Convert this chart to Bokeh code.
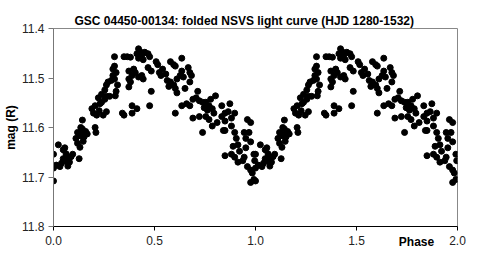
from bokeh.plotting import figure
from bokeh.models import Range1d, FixedTicker, NumeralTickFormatter, ColumnDataSource, Label
from bokeh.embed import file_html
from bokeh.resources import INLINE

# Folded light curve, one cycle (phase 0-1); the chart shows it twice (0-2)
phase = [
    0.000, 0.000, 0.000, 0.014, 0.024, 0.032, 0.040, 0.048, 0.048, 0.056, 0.062, 0.066, 0.071, 0.075, 0.079, 0.087, 0.095,
    0.111, 0.119, 0.119, 0.127, 0.127, 0.131, 0.135, 0.135, 0.143, 0.143, 0.147, 0.151, 0.155, 0.159, 0.167, 0.206, 0.210,
    0.190, 0.198, 0.206, 0.214, 0.222, 0.226, 0.230, 0.238, 0.238, 0.246, 0.254, 0.254, 0.262, 0.262, 0.270, 0.278, 0.262, 0.286, 0.294, 0.294,
    0.302, 0.302, 0.302, 0.306, 0.310, 0.310, 0.317, 0.341, 0.349, 0.349, 0.365, 0.373, 0.373, 0.373, 0.381, 0.381, 0.389, 0.389, 0.389, 0.397, 0.405, 0.413, 0.413, 0.421, 0.421, 0.421, 0.429, 0.437, 0.437, 0.444, 0.444, 0.452,
    0.468, 0.468, 0.476, 0.476, 0.484, 0.484, 0.508, 0.516, 0.524, 0.532, 0.540, 0.556, 0.563, 0.571, 0.579, 0.579, 0.595, 0.595, 0.603, 0.603, 0.603, 0.611, 0.611, 0.627, 0.635, 0.635, 0.635, 0.643, 0.651,
    0.659, 0.667, 0.675, 0.675, 0.675, 0.683, 0.690, 0.690, 0.706, 0.714, 0.722, 0.722, 0.738, 0.738, 0.746, 0.754, 0.754, 0.762, 0.770, 0.770, 0.778, 0.786, 0.786, 0.794, 0.802, 0.810, 0.833, 0.833, 0.841,
    0.849, 0.849, 0.849, 0.849, 0.865, 0.873, 0.881, 0.881, 0.881, 0.889, 0.897, 0.897, 0.897, 0.905, 0.913, 0.913, 0.921, 0.937, 0.944, 0.944, 0.952, 0.952, 0.960, 0.960, 0.968, 0.976, 0.976, 0.976, 0.976, 0.984, 0.992, 0.992, 0.996,
]
mag = [
    11.654, 11.682, 11.708, 11.676, 11.635, 11.679, 11.672, 11.663, 11.645, 11.641, 11.653, 11.668, 11.678, 11.661, 11.670, 11.659, 11.654,
    11.622, 11.632, 11.610, 11.663, 11.613, 11.640, 11.600, 11.617, 11.585, 11.603, 11.628, 11.619, 11.610, 11.608, 11.613, 11.600, 11.610,
    11.562, 11.571, 11.556, 11.575, 11.540, 11.566, 11.552, 11.533, 11.549, 11.575, 11.543, 11.524, 11.568, 11.537, 11.508, 11.537, 11.514, 11.505, 11.495, 11.482,
    11.502, 11.476, 11.457, 11.536, 11.489, 11.527, 11.514, 11.571, 11.575, 11.457, 11.457, 11.518, 11.502, 11.486, 11.508, 11.458, 11.571, 11.556, 11.495, 11.482, 11.489, 11.562, 11.451, 11.441, 11.460, 11.498, 11.447, 11.454, 11.495, 11.502, 11.463, 11.448,
    11.451, 11.479, 11.457, 11.556, 11.486, 11.527, 11.467, 11.473, 11.489, 11.495, 11.482, 11.492, 11.505, 11.517, 11.508, 11.467, 11.514, 11.473, 11.521, 11.476, 11.571, 11.530, 11.502, 11.495, 11.486, 11.460, 11.556, 11.498, 11.521,
    11.552, 11.479, 11.489, 11.508, 11.556, 11.495, 11.543, 11.581, 11.540, 11.527, 11.546, 11.578, 11.549, 11.610, 11.560, 11.549, 11.578, 11.565, 11.556, 11.584, 11.543, 11.562, 11.597, 11.571, 11.536, 11.590, 11.578, 11.556, 11.606,
    11.587, 11.571, 11.606, 11.657, 11.568, 11.552, 11.581, 11.597, 11.654, 11.638, 11.610, 11.571, 11.660, 11.622, 11.635, 11.670, 11.648, 11.667, 11.610, 11.660, 11.622, 11.641, 11.584, 11.679, 11.610, 11.590, 11.629, 11.686, 11.711, 11.692, 11.654, 11.705, 11.667,
]

x_ticks = [0.0, 0.5, 1.0, 1.5, 2.0]
y_ticks = [11.4, 11.5, 11.6, 11.7, 11.8]
title_text = "GSC 04450-00134: folded NSVS light curve (HJD 1280-1532)"
y_label = "mag (R)"
x_label = "Phase"

xs = phase + [p + 1.0 for p in phase]
ys = mag + mag
src = ColumnDataSource(data=dict(x=xs, y=ys))

font = "Liberation Sans"

p = figure(width=469, height=251, output_backend="svg", toolbar_location=None,
           x_range=Range1d(0, 2), y_range=Range1d(11.8, 11.4),
           min_border_left=53, min_border_right=12, min_border_top=28, min_border_bottom=25)

p.scatter("x", "y", source=src, marker="circle", size=6, color="black")

p.xgrid.visible = False
p.ygrid.visible = False
p.background_fill_color = "white"
p.border_fill_color = "white"
p.outline_line_color = "#888888"
p.outline_line_width = 1

for ax in (p.xaxis[0], p.yaxis[0]):
    ax.major_label_text_font = font
    ax.major_label_text_font_size = "12px"
    ax.major_label_text_color = "#222222"
    ax.minor_tick_line_color = None
    ax.major_tick_in = 0

p.xaxis.ticker = FixedTicker(ticks=x_ticks)
p.xaxis.formatter = NumeralTickFormatter(format="0.0")
p.xaxis.major_tick_out = 4
p.xaxis.axis_line_color = "black"
p.xaxis.major_tick_line_color = "black"
p.xaxis.major_label_standoff = 5

p.yaxis.ticker = FixedTicker(ticks=y_ticks)
p.yaxis.formatter = NumeralTickFormatter(format="0.0")
p.yaxis.major_tick_out = 5
p.yaxis.axis_line_color = "#777777"
p.yaxis.major_tick_line_color = "#777777"
p.yaxis.major_label_standoff = 4
p.yaxis.axis_label = y_label
p.yaxis.axis_label_standoff = 1
p.yaxis.axis_label_text_font = font
p.yaxis.axis_label_text_font_size = "12px"
p.yaxis.axis_label_text_font_style = "bold"
p.yaxis.axis_label_text_color = "black"

# chart title (placed in the top panel, positioned on the chart's scales)
p.add_layout(Label(x=0.104, y=11.3853, text=title_text, text_align="left",
                   text_baseline="alphabetic", text_font=font, text_font_size="12px",
                   text_font_style="bold", text_color="black"), "above")
# x-axis name, sitting in the tick-label row between 1.5 and 2.0
p.add_layout(Label(x=1.797, y=11.8162, text=x_label, text_align="center",
                   text_baseline="top", text_font=font, text_font_size="12px",
                   text_font_style="bold", text_color="black"), "above")

open("out.html", "w").write(file_html(p, INLINE))
